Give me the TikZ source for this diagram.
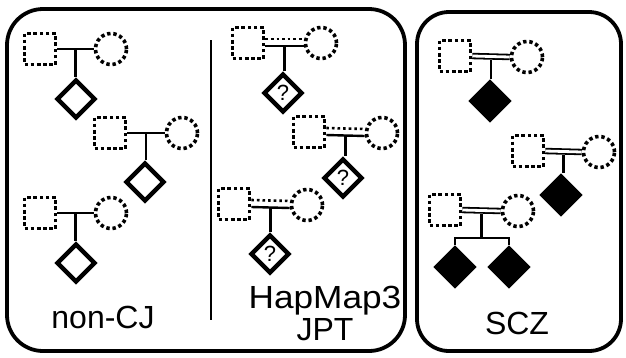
\documentclass[tikz,border=0pt]{standalone}
\usepackage{fontspec}
\usepackage{graphicx}
\setmainfont{Liberation Sans}
\usetikzlibrary{shapes.geometric}
\tikzset{
  panel/.style={draw, line width=3.8pt, rounded corners=36pt},
  sq/.style={draw, rectangle, minimum size=31pt, inner sep=0pt, line width=3.6pt, dash pattern=on 3.6pt off 2.6pt},
  ci/.style={draw, circle, minimum size=31pt, inner sep=0pt, line width=3.6pt, dash pattern=on 3.4pt off 2.8pt},
  dia/.style={draw, diamond, minimum size=39pt, inner sep=0pt, line width=4.4pt, font=\fontsize{22}{22}\selectfont},
  fdia/.style={dia, fill=black},
  ml/.style={line width=2.4pt},
  dl/.style={line width=2.6pt, dash pattern=on 2.6pt off 3pt},
  dbl/.style={line width=1.8pt, double, double distance=2.8pt},
  lbl/.style={font=\fontsize{32}{29}\selectfont, align=center, inner sep=0pt},
}
\begin{document}
\begin{tikzpicture}[x=1pt,y=-1pt]
\useasboundingbox (0,0) rectangle (626,357);
\draw[panel] (7,9) rectangle (405,351);
\draw[panel, rounded corners=32pt] (417,12) rectangle (621,351);
\coordinate (dvt) at (211,40);
\coordinate (dvb) at (211,320);
\draw[line width=1.6pt] (dvt) -- (dvb);

% ---- non-CJ
\node[sq] (a1s) at (40,49) {};
\node[ci] (a1c) at (111,49) {};
\node[dia] (a1d) at (76,99) {};
\draw[ml] (a1s.east) -- (a1c.west) coordinate[pos=0.5] (a1m);
\draw[ml] (a1m) -- (a1m |- a1d.north);

\node[sq] (a2s) at (110,133) {};
\node[ci] (a2c) at (182,133) {};
\node[dia] (a2d) at (145,182) {};
\draw[ml] (a2s.east) -- (a2c.west) coordinate[pos=0.5] (a2m);
\draw[ml] (a2m) -- (a2m |- a2d.north);

\node[sq] (a3s) at (40,213) {};
\node[ci] (a3c) at (111,213) {};
\node[dia] (a3d) at (76,263) {};
\draw[ml] (a3s.east) -- (a3c.west) coordinate[pos=0.5] (a3m);
\draw[ml] (a3m) -- (a3m |- a3d.north);

\node[lbl] (la) at (103,317) {non-CJ};

% ---- HapMap3 JPT
\node[sq] (b1s) at (248,43) {};
\node[ci] (b1c) at (321,43) {};
\node[dia] (b1d) at (283,93) {?};
\draw[ml] ([yshift=-3pt]b1s.east) -- ([yshift=-3pt]b1c.west) coordinate[pos=0.5] (b1m);
\draw[dl] ([yshift=4pt]b1s.east) -- ([yshift=4pt]b1c.west);
\draw[ml] (b1m) -- (b1m |- b1d.north);

\node[sq] (b2s) at (309,132) {};
\node[ci] (b2c) at (382,133) {};
\node[dia] (b2d) at (343,178) {?};
\draw[ml] ([yshift=-3pt]b2s.east) -- ([yshift=-3pt]b2c.west) coordinate[pos=0.5] (b2m);
\draw[dl] ([yshift=4pt]b2s.east) -- ([yshift=4pt]b2c.west);
\draw[ml] (b2m) -- (b2m |- b2d.north);

\node[sq] (b3s) at (234,204) {};
\node[ci] (b3c) at (307,205) {};
\node[dia] (b3d) at (270,254) {?};
\draw[ml] ([yshift=-3pt]b3s.east) -- ([yshift=-3pt]b3c.west) coordinate[pos=0.5] (b3m);
\draw[dl] ([yshift=4pt]b3s.east) -- ([yshift=4pt]b3c.west);
\draw[ml] (b3m) -- (b3m |- b3d.north);

\node[lbl] (lb1) at (325,301) {\scalebox{1.1}[1]{HapMap3}};
\node[lbl] (lb2) at (325,330) {JPT};

% ---- SCZ
\node[sq] (c1s) at (455,56) {};
\node[ci] (c1c) at (527,57) {};
\node[fdia] (c1d) at (490,101) {};
\draw[dbl] (c1s.east) -- (c1c.west) coordinate[pos=0.5] (c1m);
\draw[ml] ([yshift=-3pt]c1m) -- (c1m |- c1d.north);

\node[sq] (c2s) at (528,151) {};
\node[ci] (c2c) at (599,152) {};
\node[fdia] (c2d) at (561,195) {};
\draw[dbl] (c2s.east) -- (c2c.west) coordinate[pos=0.5] (c2m);
\draw[ml] ([yshift=-3pt]c2m) -- (c2m |- c2d.north);

\node[sq] (c3s) at (445,210) {};
\node[ci] (c3c) at (518,211) {};
\node[fdia] (c3d) at (455,267) {};
\node[fdia] (c3e) at (509,267) {};
\draw[dbl] (c3s.east) -- (c3c.west) coordinate[pos=0.5] (c3m);
\coordinate (c3k) at (482,238);
\draw[ml] ([yshift=-3pt]c3m) -- (c3m |- c3k);
\draw[ml] (c3d.north) -- (c3d.north |- c3k) -- (c3e.north |- c3k) -- (c3e.north);

\node[lbl] (lc) at (517,323) {SCZ};
\end{tikzpicture}
\end{document}
